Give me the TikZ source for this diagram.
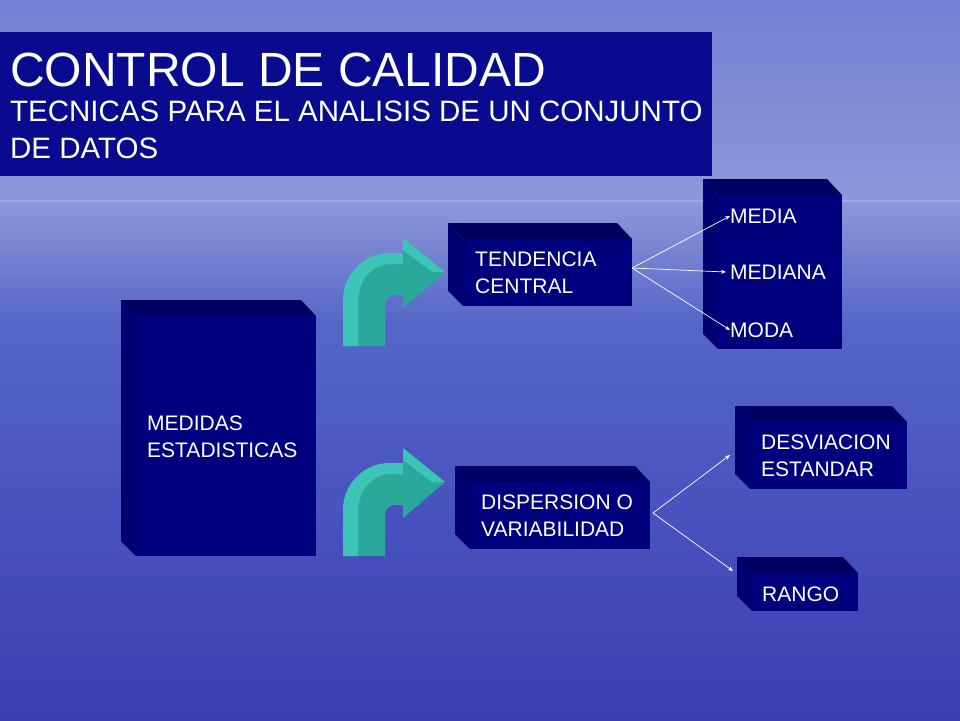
\documentclass[tikz,border=0pt]{standalone}
\usepackage{fontspec}
\setmainfont{Liberation Sans}
\usetikzlibrary{arrows.meta}
\definecolor{front}{HTML}{00007E}
\definecolor{topf}{HTML}{000060}
\definecolor{side}{HTML}{000070}
\definecolor{ttl}{HTML}{0A0A8E}
\definecolor{teal1}{HTML}{2BA89C}
\definecolor{teal2}{HTML}{3CC4B8}
\definecolor{bgtop}{HTML}{7282D4}
\definecolor{bgmid}{HTML}{5262C6}
\definecolor{bgbot}{HTML}{3A3EB4}
\tikzset{lbl/.style={text=white,font=\fontsize{21}{27}\selectfont,align=left,anchor=west,inner sep=0pt},
conn/.style={white,line width=0.7pt,-{Stealth[length=5pt,width=4pt]}}}
\newcommand\cubebox[5]{% name x0 y0 x1 y1
 \fill[topf] (#2,#3)--(#4-15,#3)--(#4,#3+16)--(#2+15,#3+16)--cycle;
 \fill[side] (#2,#3)--(#2+15,#3+16)--(#2+15,#5)--(#2,#5-15)--cycle;
 \fill[front] (#2+15,#3+16) rectangle (#4,#5);
 \coordinate (#1) at ({(#2+#4)/2},{(#3+#5)/2});}
\newcommand\bentarrow[2]{%
 \begin{scope}[shift={(#1,#2)}]
 \fill[teal1] (343,346)--(343,300) .. controls (343,274) and (364,253) .. (390,253)--(403,253)--(403,238)--(445,272)--(403,308)--(403,295)--(395,295) .. controls (389,295) and (385,299) .. (385,305)--(385,346)--cycle;
 \fill[teal2] (343,346)--(343,300) .. controls (343,274) and (364,253) .. (390,253)--(403,253)--(403,264)--(392,264) .. controls (372,264) and (358,280) .. (358,302)--(358,346)--cycle;
 \fill[teal2] (403,238)--(445,272)--(432,272)--(403,250)--cycle;
 \end{scope}}
\begin{document}
\begin{tikzpicture}[x=1pt,y=-1pt]
\useasboundingbox (0,0) rectangle (960,720);
\shade[top color=bgtop, bottom color=bgbot, middle color=bgmid] (0,0) rectangle (960,720);
\shade[top color=bgtop,bottom color=white!40!bgtop,opacity=0.6] (0,0) rectangle (960,201);
\shade[top color=white!40!bgtop,bottom color=bgmid,opacity=0.6] (0,200) rectangle (960,330);
\fill[ttl] (0,32) rectangle (712,176);
\node[text=white,anchor=base west,inner sep=0pt,font=\fontsize{48}{54}\selectfont] (t1) at (10,86) {CONTROL DE CALIDAD};
\node[text=white,anchor=north west,inner sep=0pt,align=left,font=\fontsize{29.5}{37}\selectfont] (t2) at (10,101) {TECNICAS PARA EL ANALISIS DE UN CONJUNTO\\DE DATOS};
\cubebox{med}{121}{300}{316}{556}
\cubebox{tc}{448}{223}{632}{306}
\cubebox{mm}{703}{179}{842}{349}
\cubebox{dv}{455}{466}{650}{549}
\cubebox{de}{735}{406}{907}{489}
\cubebox{ra}{737}{557}{858}{611}
\bentarrow{0}{0}
\bentarrow{0}{210}
\node[lbl] (lmed) at (147,437) {MEDIDAS\\ESTADISTICAS};
\node[lbl] (ltc) at (475,273) {TENDENCIA\\CENTRAL};
\node[lbl] (lmedia) at (730,216) {MEDIA};
\node[lbl] (lmediana) at (730,272) {MEDIANA};
\node[lbl] (lmoda) at (730,330) {MODA};
\node[lbl] (ldv) at (481,516) {DISPERSION O\\VARIABILIDAD};
\node[lbl] (lde) at (761,456) {DESVIACION\\ESTANDAR};
\node[lbl] (lra) at (762,594) {RANGO};
\coordinate (s1) at (632,268);
\coordinate (s2) at (653,513);
\draw[conn] (s1) -- (lmedia.west);
\draw[conn] (s1) -- ([xshift=-4pt]lmediana.west);
\draw[conn] (s1) -- (lmoda.west);
\draw[conn] (s2) -- (730,455);
\draw[conn] (s2) -- (733,571);
\end{tikzpicture}
\end{document}
